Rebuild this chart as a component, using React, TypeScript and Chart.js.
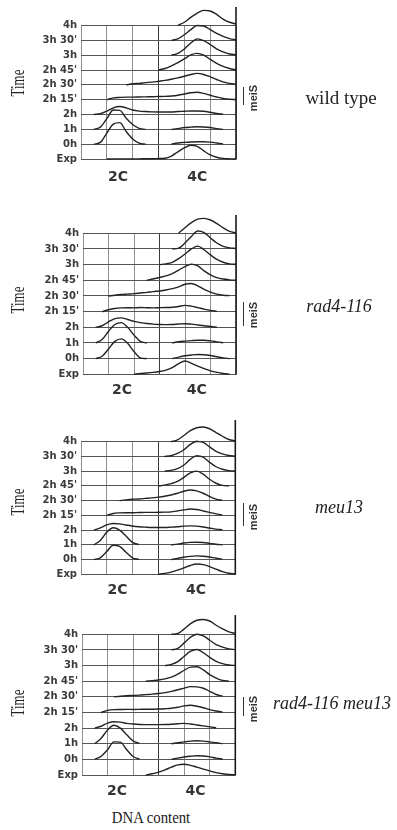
import React, { useEffect, useRef } from 'react';
import { Chart, registerables } from 'chart.js';

Chart.register(...registerables);

const _ = null;

// DNA content positions (grid units, vertical grid lines at integers)
const XS = [0, 0.25, 0.5, 0.75, 1, 1.25, 1.5, 1.75, 2, 2.25, 2.5, 2.75, 3, 3.25, 3.5, 3.75, 4, 4.25, 4.5, 4.75, 5, 5.25, 5.5, 5.75, 6];

const ROW_LABELS = ['Exp', '0h', '1h', '2h', "2h 15'", "2h 30'", "2h 45'", '3h', "3h 30'", '4h'];
const DNA_LABELS = ['2C', '4C'];

// ---- wild type (heights in row units) ----
const WT_EXP = [_, _, _, _, 0, 0.01, 0.01, 0.01, 0.01, 0.01, 0.02, 0.02, 0.03, 0.05, 0.2, 0.48, 0.75, 0.93, 0.85, 0.55, 0.28, 0.12, 0.04, 0.01, 0];
const WT_0H = [_, _, 0, 0.12, 0.75, 1.35, 1.45, 0.85, 0.35, 0.07, 0, _, _, _, 0, 0.08, 0.12, 0.15, 0.16, 0.16, 0.14, 0.08, 0.02, _, _];
const WT_1H = [_, _, 0, 0.15, 0.72, 1.3, 1.28, 0.75, 0.33, 0.07, 0, _, _, _, 0, 0.05, 0.12, 0.15, 0.17, 0.16, 0.12, 0.05, 0, _, _];
const WT_2H = [_, _, 0, 0.05, 0.22, 0.45, 0.54, 0.45, 0.3, 0.23, 0.2, 0.18, 0.17, 0.17, 0.17, 0.2, 0.22, 0.24, 0.24, 0.22, 0.15, 0.07, 0.02, _, _];
const WT_2H15 = [_, _, _, _, 0, 0.12, 0.15, 0.17, 0.17, 0.18, 0.19, 0.2, 0.21, 0.22, 0.25, 0.3, 0.38, 0.47, 0.5, 0.42, 0.3, 0.18, 0.08, 0.03, 0.01];
const WT_2H30 = [_, _, _, _, _, _, _, 0, 0.07, 0.1, 0.15, 0.18, 0.24, 0.3, 0.38, 0.47, 0.58, 0.7, 0.77, 0.7, 0.54, 0.36, 0.2, 0.1, 0.04];
const WT_2H45 = [_, _, _, _, _, _, _, _, _, _, _, _, 0, 0.1, 0.28, 0.5, 0.75, 1.02, 1.12, 1.0, 0.72, 0.45, 0.24, 0.1, 0];
const WT_3H = [_, _, _, _, _, _, _, _, _, _, _, _, _, _, 0, 0.12, 0.42, 0.82, 1.1, 0.98, 0.72, 0.42, 0.22, 0.08, 0.03];
const WT_3H30 = [_, _, _, _, _, _, _, _, _, _, _, _, _, _, 0, 0.1, 0.38, 0.72, 1.0, 0.97, 0.72, 0.47, 0.27, 0.12, 0.04];
const WT_4H = [_, _, _, _, _, _, _, _, _, _, _, _, _, _, _, 0, 0.22, 0.55, 0.84, 1.02, 0.98, 0.75, 0.43, 0.22, 0.1];

// ---- rad4-116 ----
const R_EXP = [_, _, _, _, _, _, _, _, 0, 0.05, 0.08, 0.12, 0.18, 0.27, 0.42, 0.68, 0.85, 0.7, 0.52, 0.36, 0.22, 0.12, 0.05, 0.01, _];
const R_0H = [_, _, 0, 0.15, 0.62, 1.1, 1.26, 0.98, 0.45, 0.05, 0, _, _, _, 0, 0.1, 0.18, 0.23, 0.26, 0.25, 0.2, 0.12, 0.05, 0, _];
const R_1H = [_, _, 0, 0.22, 0.75, 1.18, 1.3, 1.0, 0.5, 0.1, 0, _, _, _, 0, 0.08, 0.12, 0.15, 0.17, 0.17, 0.13, 0.07, 0.01, _, _];
const R_2H = [_, _, 0, 0.1, 0.35, 0.55, 0.6, 0.5, 0.38, 0.3, 0.24, 0.2, 0.18, 0.17, 0.18, 0.21, 0.23, 0.2, 0.15, 0.1, 0.05, 0.01, _, _, _];
const R_2H15 = [_, _, _, 0, 0.12, 0.2, 0.24, 0.25, 0.24, 0.26, 0.25, 0.24, 0.25, 0.26, 0.28, 0.33, 0.4, 0.35, 0.26, 0.16, 0.08, 0.02, _, _, _];
const R_2H30 = [_, _, _, _, 0, 0.05, 0.09, 0.12, 0.15, 0.19, 0.23, 0.28, 0.32, 0.38, 0.47, 0.58, 0.75, 0.8, 0.65, 0.42, 0.25, 0.12, 0.05, 0.02, _];
const R_2H45 = [_, _, _, _, _, _, _, _, _, _, 0, 0.08, 0.18, 0.28, 0.43, 0.65, 0.88, 1.03, 0.92, 0.6, 0.35, 0.17, 0.08, 0.03, 0];
const R_3H = [_, _, _, _, _, _, _, _, _, _, _, _, 0, 0.05, 0.15, 0.38, 0.68, 1.0, 1.18, 0.95, 0.62, 0.33, 0.15, 0.05, 0.02];
const R_3H30 = [_, _, _, _, _, _, _, _, _, _, _, _, _, _, 0, 0.05, 0.38, 0.8, 1.15, 1.05, 0.7, 0.38, 0.17, 0.07, 0.03];
const R_4H = [_, _, _, _, _, _, _, _, _, _, _, _, _, _, _, 0.02, 0.35, 0.68, 0.9, 0.95, 0.85, 0.62, 0.35, 0.12, 0.02];

// ---- meu13 ----
const M_EXP = [_, _, _, _, _, _, _, _, _, _, _, _, 0, 0.06, 0.15, 0.28, 0.43, 0.6, 0.7, 0.66, 0.52, 0.35, 0.18, 0.07, 0.02];
const M_0H = [_, _, 0, 0.12, 0.54, 0.97, 0.9, 0.5, 0.12, 0.01, _, _, _, _, 0, 0.08, 0.16, 0.22, 0.25, 0.23, 0.17, 0.09, 0.03, _, _];
const M_1H = [_, _, 0, 0.3, 0.85, 1.16, 1.0, 0.6, 0.17, 0.02, _, _, _, _, 0, 0.05, 0.12, 0.17, 0.18, 0.16, 0.1, 0.04, 0, _, _];
const M_2H = [_, _, 0, 0.15, 0.35, 0.45, 0.42, 0.35, 0.28, 0.23, 0.2, 0.18, 0.18, 0.18, 0.2, 0.23, 0.27, 0.29, 0.27, 0.21, 0.14, 0.07, 0.02, _, _];
const M_2H15 = [_, _, _, _, 0, 0.13, 0.17, 0.18, 0.18, 0.19, 0.2, 0.2, 0.21, 0.22, 0.24, 0.3, 0.37, 0.43, 0.4, 0.3, 0.2, 0.1, 0.03, _, _];
const M_2H30 = [_, _, _, _, _, _, 0, 0.05, 0.09, 0.11, 0.15, 0.19, 0.24, 0.3, 0.38, 0.5, 0.64, 0.72, 0.66, 0.5, 0.28, 0.1, 0.02, _, _];
const M_2H45 = [_, _, _, _, _, _, _, _, _, _, _, _, 0, 0.05, 0.15, 0.3, 0.58, 0.88, 1.0, 0.8, 0.45, 0.18, 0.04, 0, _];
const M_3H = [_, _, _, _, _, _, _, _, _, _, _, _, _, 0, 0.05, 0.17, 0.42, 0.8, 1.05, 0.95, 0.6, 0.3, 0.13, 0.04, 0.01];
const M_3H30 = [_, _, _, _, _, _, _, _, _, _, _, _, _, 0, 0.05, 0.2, 0.45, 0.82, 1.03, 0.95, 0.65, 0.35, 0.17, 0.06, 0.02];
const M_4H = [_, _, _, _, _, _, _, _, _, _, _, _, _, _, 0, 0.12, 0.42, 0.75, 0.95, 1.0, 0.88, 0.62, 0.37, 0.15, 0.05];

// ---- rad4-116 meu13 ----
const D_EXP = [_, _, _, _, _, _, _, _, _, _, 0, 0.08, 0.18, 0.33, 0.5, 0.65, 0.69, 0.62, 0.5, 0.38, 0.26, 0.15, 0.08, 0.03, 0.01];
const D_0H = [_, _, 0, 0.2, 0.62, 1.12, 1.1, 0.62, 0.18, 0.02, _, _, _, _, 0, 0.08, 0.15, 0.2, 0.23, 0.22, 0.16, 0.08, 0.02, _, _];
const D_1H = [_, _, 0, 0.35, 0.88, 1.18, 1.0, 0.58, 0.18, 0.02, _, _, _, _, 0, 0.06, 0.12, 0.17, 0.19, 0.17, 0.12, 0.06, 0.01, _, _];
const D_2H = [_, _, 0, 0.12, 0.32, 0.41, 0.38, 0.3, 0.26, 0.23, 0.22, 0.22, 0.22, 0.23, 0.25, 0.28, 0.3, 0.26, 0.2, 0.14, 0.08, 0.02, _, _, _];
const D_2H15 = [_, _, _, 0, 0.13, 0.18, 0.19, 0.2, 0.19, 0.2, 0.21, 0.21, 0.22, 0.24, 0.27, 0.33, 0.42, 0.46, 0.4, 0.3, 0.18, 0.09, 0.02, _, _];
const D_2H30 = [_, _, _, _, _, 0, 0.04, 0.07, 0.09, 0.11, 0.14, 0.17, 0.21, 0.27, 0.35, 0.45, 0.56, 0.65, 0.64, 0.55, 0.35, 0.15, 0.05, _, _];
const D_2H45 = [_, _, _, _, _, _, _, _, _, _, 0, 0.04, 0.08, 0.15, 0.26, 0.45, 0.7, 0.9, 0.92, 0.72, 0.42, 0.2, 0.05, 0, _];
const D_3H = [_, _, _, _, _, _, _, _, _, _, _, _, _, 0, 0.08, 0.25, 0.6, 0.92, 1.03, 0.82, 0.52, 0.27, 0.12, 0.04, 0];
const D_3H30 = [_, _, _, _, _, _, _, _, _, _, _, _, _, _, 0, 0.1, 0.45, 0.82, 1.0, 0.9, 0.62, 0.34, 0.18, 0.07, 0.02];
const D_4H = [_, _, _, _, _, _, _, _, _, _, _, _, _, _, 0, 0.05, 0.35, 0.68, 0.9, 0.95, 0.85, 0.58, 0.35, 0.15, 0.05];

const WT_ROWS = [WT_EXP, WT_0H, WT_1H, WT_2H, WT_2H15, WT_2H30, WT_2H45, WT_3H, WT_3H30, WT_4H];
const R_ROWS = [R_EXP, R_0H, R_1H, R_2H, R_2H15, R_2H30, R_2H45, R_3H, R_3H30, R_4H];
const M_ROWS = [M_EXP, M_0H, M_1H, M_2H, M_2H15, M_2H30, M_2H45, M_3H, M_3H30, M_4H];
const D_ROWS = [D_EXP, D_0H, D_1H, D_2H, D_2H15, D_2H30, D_2H45, D_3H, D_3H30, D_4H];

type PanelCfg = {
  top: number;
  height: number;
  left: number;
  right: number;
  areaTop: number;
  areaBottom: number;
  axisTop: number;
  dnaPos: number[];
  dnaPad: number;
  rows: (number | null)[][];
};

const PANELS: PanelCfg[] = [
  { top: 0, height: 190, left: 81, right: 236, areaTop: 25.5, areaBottom: 159, axisTop: 10.25, dnaPos: [1.43, 4.5], dnaPad: 9.6, rows: WT_ROWS },
  { top: 200, height: 200, left: 83, right: 236, areaTop: 33.3, areaBottom: 174.3, axisTop: 10.17, dnaPos: [1.53, 4.46], dnaPad: 7.3, rows: R_ROWS },
  { top: 405, height: 200, left: 81, right: 235.3, areaTop: 36.7, areaBottom: 169.3, axisTop: 10.47, dnaPos: [1.42, 4.47], dnaPad: 7.3, rows: M_ROWS },
  { top: 605, height: 200, left: 82, right: 235.3, areaTop: 29.3, areaBottom: 170, axisTop: 10.23, dnaPos: [1.37, 4.44], dnaPad: 8.3, rows: D_ROWS },
];

function Panel({ cfg }: { cfg: PanelCfg }) {
  const ref = useRef<HTMLCanvasElement>(null);
  useEffect(() => {
    if (!ref.current) return;
    const datasets = cfg.rows.map((row, r) => ({
      data: XS.map((x, i) => ({ x, y: row[i] == null ? null : r + (row[i] as number) })),
      borderColor: '#222',
      borderWidth: 1.4,
      pointRadius: 0,
      fill: false,
      clip: false as any,
      spanGaps: false,
      cubicInterpolationMode: 'monotone' as const,
    }));
    const rightAxis = {
      id: 'rightAxis',
      afterDatasetsDraw(chart: any) {
        const { ctx, chartArea } = chart;
        const ys = chart.scales.y;
        ctx.save();
        ctx.strokeStyle = '#1a1a1a';
        ctx.lineWidth = 1.6;
        ctx.beginPath();
        ctx.moveTo(chartArea.right, ys.getPixelForValue(cfg.axisTop));
        ctx.lineTo(chartArea.right, chartArea.bottom + 0.5);
        ctx.stroke();
        ctx.restore();
      },
    };
    const chart = new Chart(ref.current, {
      type: 'line',
      data: { datasets: datasets as any },
      plugins: [rightAxis],
      options: {
        responsive: false,
        animation: false,
        devicePixelRatio: 1,
        layout: { padding: { left: 0, right: 397 - cfg.right, top: cfg.areaTop, bottom: 0 } },
        plugins: { legend: { display: false }, tooltip: { enabled: false } },
        scales: {
          x: {
            type: 'linear',
            min: 0,
            max: 6,
            position: 'bottom',
            ticks: { display: false, stepSize: 1 },
            grid: {
              color: (c: any) => (c.tick && c.tick.value === 3 ? '#3a3a3a' : '#8f8f8f'),
              lineWidth: 1,
              drawTicks: false,
            },
            border: { display: false },
            afterFit: (s: any) => {
              s.height = 0;
            },
          },
          x2: {
            type: 'linear',
            min: 0,
            max: 6,
            position: 'bottom',
            afterBuildTicks: (s: any) => {
              s.ticks = cfg.dnaPos.map((v) => ({ value: v }));
            },
            ticks: {
              autoSkip: false,
              maxRotation: 0,
              padding: cfg.dnaPad,
              color: '#333',
              font: { family: 'DejaVu Sans', weight: 'bold', size: 14 },
              callback: (_v: any, i: number) => DNA_LABELS[i],
            },
            grid: { display: false, drawTicks: false },
            border: { display: false },
            afterFit: (s: any) => {
              s.height = cfg.height - cfg.areaBottom;
            },
          },
          y: {
            type: 'linear',
            min: 0,
            max: 9,
            position: 'left',
            ticks: {
              stepSize: 1,
              autoSkip: false,
              padding: 4,
              color: '#3a3a3a',
              font: { family: 'DejaVu Sans', weight: 'bold', size: 10 },
              callback: (v: any) => ROW_LABELS[Math.round(Number(v))],
            },
            grid: { color: '#555', lineWidth: 1, drawTicks: false },
            border: { display: false },
            afterFit: (s: any) => {
              s.width = cfg.left;
            },
          },
        },
      } as any,
    });
    return () => chart.destroy();
  }, [cfg]);
  return (
    <canvas
      ref={ref}
      width={397}
      height={cfg.height}
      style={{ position: 'absolute', left: 0, top: cfg.top, width: 397, height: cfg.height }}
    />
  );
}

type TextItem = { text: string; x: number; y: number; style: React.CSSProperties };

const serif = '"Liberation Serif", "Times New Roman", serif';
const sans = '"Liberation Sans", Arial, sans-serif';

const TIME_Y = [82.5, 300, 501.7, 703];
const MEIS_Y = [98.3, 315, 516.7, 709];
const BAR_SPANS = [[87, 105], [302, 326], [503, 526], [697, 716]];
const STRAINS = [
  { text: 'wild type', x: 341, y: 97, italic: false },
  { text: 'rad4-116', x: 339, y: 306, italic: true },
  { text: 'meu13', x: 339, y: 507, italic: true },
  { text: 'rad4-116 meu13', x: 332, y: 703, italic: true },
];

function Label({ item }: { item: TextItem }) {
  return (
    <div
      style={{
        position: 'absolute',
        left: item.x,
        top: item.y,
        whiteSpace: 'nowrap',
        lineHeight: 1,
        ...item.style,
      }}
    >
      {item.text}
    </div>
  );
}

export default function App() {
  const items: TextItem[] = [];
  TIME_Y.forEach((y) =>
    items.push({
      text: 'Time',
      x: 17.5,
      y,
      style: { fontFamily: serif, fontSize: 18, color: '#222', transform: 'translate(-50%,-50%) rotate(-90deg) scaleX(0.72)' },
    })
  );
  MEIS_Y.forEach((y) =>
    items.push({
      text: 'meiS',
      x: 253,
      y,
      style: { fontFamily: sans, fontWeight: 'bold', fontSize: 11, color: '#333', transform: 'translate(-50%,-50%) rotate(-90deg)' },
    })
  );
  STRAINS.forEach((s) =>
    items.push({
      text: s.text,
      x: s.x,
      y: s.y,
      style: {
        fontFamily: serif,
        fontSize: s.italic ? 18 : 19,
        fontStyle: s.italic ? 'italic' : 'normal',
        color: '#222',
        transform: 'translate(-50%,-50%)',
      },
    })
  );
  items.push({
    text: 'DNA content',
    x: 151,
    y: 817,
    style: { fontFamily: serif, fontSize: 17, color: '#222', transform: 'translate(-50%,-50%) scaleX(0.87)' },
  });

  return (
    <div style={{ position: 'absolute', left: 0, top: 0, width: 397, height: 830, background: '#fff', overflow: 'hidden' }}>
      {PANELS.map((p, i) => (
        <Panel key={i} cfg={p} />
      ))}
      {BAR_SPANS.map((b, i) => (
        <div
          key={'bar' + i}
          style={{ position: 'absolute', left: 242.5, top: b[0], width: 1.6, height: b[1] - b[0], background: '#333' }}
        />
      ))}
      {items.map((it, i) => (
        <Label key={'t' + i} item={it} />
      ))}
    </div>
  );
}
